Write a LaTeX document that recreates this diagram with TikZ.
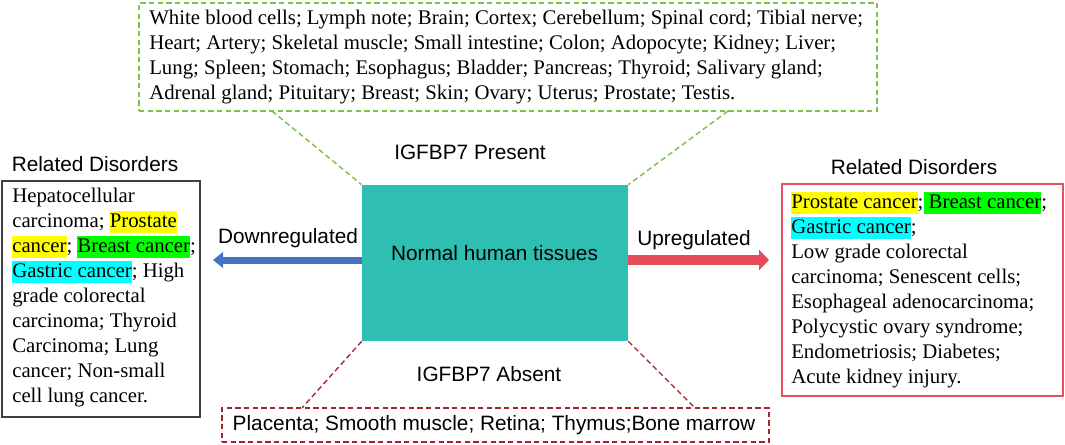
\documentclass[tikz,border=0pt]{standalone}
\usepackage{fontspec}
\setmainfont{Liberation Serif}
\newfontfamily\lsans{Liberation Sans}
\usetikzlibrary{arrows.meta,calc}
\definecolor{teal1}{RGB}{46,191,178}
\definecolor{dgreen}{RGB}{125,195,75}
\definecolor{dred}{RGB}{160,35,45}
\definecolor{pinkred}{RGB}{232,80,94}
\definecolor{frameg}{RGB}{64,64,64}
\definecolor{arrowblue}{RGB}{68,114,196}
\definecolor{arrowred}{RGB}{230,75,92}
\definecolor{hly}{RGB}{255,255,0}
\definecolor{hlg}{RGB}{0,255,0}
\definecolor{hlc}{RGB}{0,255,255}
\newcommand\hlt[2]{{\setlength{\fboxsep}{0pt}\colorbox{#1}{\rule[-0.24em]{0pt}{1.06em}#2}}}
\begin{document}
\begin{tikzpicture}[x=0.75pt,y=-0.75pt,
  serif/.style={font={\fontsize{15.6}{18.75}\selectfont}, inner sep=0pt, align=left},
  sanslabel/.style={font={\lsans\fontsize{15.6}{18.75}\selectfont}, inner sep=0pt},
  frame/.style={draw, line width=1.1pt, inner sep=0pt},
  greendash/.style={draw=dgreen, line width=1.1pt, dash pattern={on 4pt off 2.5pt}},
  reddash/.style={draw=dred, line width=1pt, dash pattern={on 4pt off 2.5pt}},
]
\fill[white] (0,0) rectangle (1065,444);
\useasboundingbox (0,0) rectangle (1065,444);

% top box
\node[frame, greendash, minimum width={738*0.75pt}, minimum height={108*0.75pt}] (topbox) at (508,57) {};
\node[serif, anchor=west] (toptext) at (149,57) {White blood cells; Lymph note; Brain; Cortex; Cerebellum; Spinal cord; Tibial nerve;\\
Heart; Artery; Skeletal muscle; Small intestine; Colon; Adopocyte; Kidney; Liver;\\
Lung; Spleen; Stomach; Esophagus; Bladder; Pancreas; Thyroid; Salivary gland;\\
Adrenal gland; Pituitary; Breast; Skin; Ovary; Uterus; Prostate; Testis.};

\node[sanslabel] (present) at (470,152) {IGFBP7 Present};
\node[sanslabel] (absent) at (489,374) {IGFBP7 Absent};

% central box
\node[fill=teal1, inner sep=0pt, minimum width={266*0.75pt}, minimum height={156*0.75pt}] (tissue) at (495,263) {};
\node[sanslabel] (tissuetext) at (494.5,253) {Normal human tissues};

% left disorders
\node[sanslabel] (lefthead) at (95,164) {Related Disorders};
\node[frame, draw=frameg, minimum width={198*0.75pt}, minimum height={236*0.75pt}] (leftbox) at (101,299) {};
\node[serif, anchor=west] (lefttext) at (12,298) {Hepatocellular\\
carcinoma; \hlt{hly}{Prostate}\\
\hlt{hly}{cancer}; \hlt{hlg}{Breast cancer};\\
\hlt{hlc}{Gastric cancer}; High\\
grade colorectal\\
carcinoma; Thyroid\\
Carcinoma; Lung\\
cancer; Non-small\\
cell lung cancer.};

% right disorders
\node[sanslabel] (righthead) at (914,167) {Related Disorders};
\node[frame, draw=pinkred, minimum width={281*0.75pt}, minimum height={212*0.75pt}] (rightbox) at (922.5,290) {};
\node[serif, anchor=west] (righttext) at (791,290) {\hlt{hly}{Prostate cancer};\hlt{hlg}{\ Breast cancer};\\
\hlt{hlc}{Gastric cancer};\\
Low grade colorectal\\
carcinoma; Senescent cells;\\
Esophageal adenocarcinoma;\\
Polycystic ovary syndrome;\\
Endometriosis; Diabetes;\\
Acute kidney injury.};

% bottom box
\node[frame, reddash, minimum width={547*0.75pt}, minimum height={34*0.75pt}] (botbox) at (495.5,425) {};
\node[sanslabel] (bottext) at (494,425) {Placenta; Smooth muscle; Retina; Thymus;Bone marrow};

% arrows
\coordinate (bluetip) at (213,260);
\coordinate (redtip) at (769,260);
\draw[arrowblue, line width=5.25pt, -{Triangle[length=7.5pt,width=11.5pt]}] ($(tissue.west)+(0,-3)$) -- (bluetip);
\draw[arrowred, line width=7pt, -{Triangle[length=7.5pt,width=15pt]}] ($(tissue.east)+(0,-3)$) -- (redtip);
\node[sanslabel] (down) at (288,238) {Downregulated};
\node[sanslabel] (up) at (694,240) {Upregulated};

% connectors
\coordinate (gL) at (272,111);
\coordinate (gR) at (728,111);
\coordinate (rL) at (302,408);
\coordinate (rR) at (695,408);
\draw[greendash] (gL) -- (tissue.north west);
\draw[greendash] (gR) -- (tissue.north east);
\draw[reddash] (tissue.south west) -- (rL);
\draw[reddash] (tissue.south east) -- (rR);
\end{tikzpicture}
\end{document}
